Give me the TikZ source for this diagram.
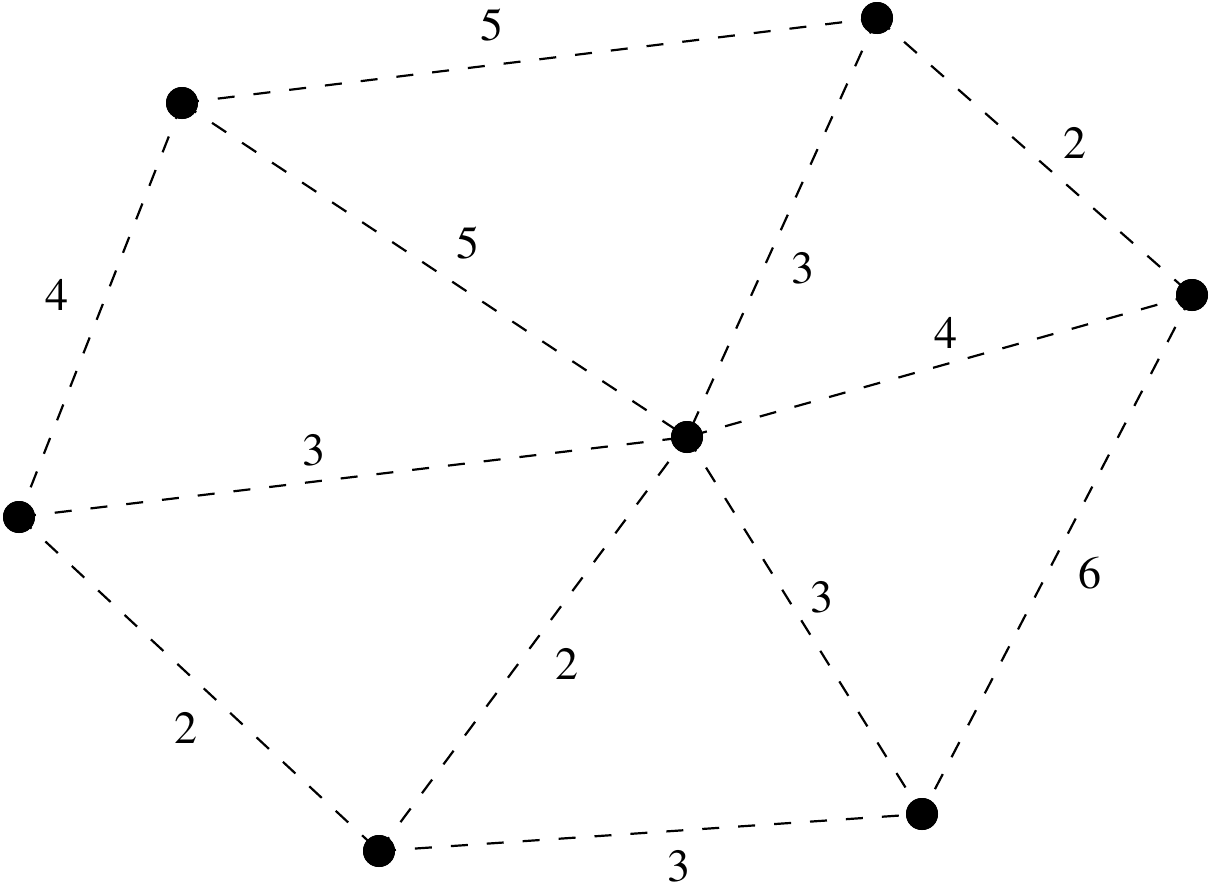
\documentclass[tikz,border=0pt]{standalone}
\usepackage[T1]{fontenc}
\begin{document}
\begin{tikzpicture}[x=1pt,y=-1pt,
  vtx/.style={circle,fill=black,inner sep=0pt,minimum size=32pt},
  edge/.style={dash pattern=on 17pt off 19pt,line width=2.2pt},
  lbl/.style={font=\fontfamily{ptm}\fontsize{46}{50}\selectfont,inner sep=0pt}]
\useasboundingbox (0,0) rectangle (1211,894);
\node[vtx] (A) at (182,103) {};
\node[vtx] (B) at (877,18) {};
\node[vtx] (C) at (1192,295) {};
\node[vtx] (D) at (687,437) {};
\node[vtx] (E) at (19,517) {};
\node[vtx] (F) at (379,851) {};
\node[vtx] (G) at (922,814) {};
\draw[edge] (A.center) -- (B.center);
\draw[edge] (B.center) -- (C.center);
\draw[edge] (A.center) -- (E.center);
\draw[edge] (A.center) -- (D.center);
\draw[edge] (B.center) -- (D.center);
\draw[edge] (C.center) -- (D.center);
\draw[edge] (E.center) -- (D.center);
\draw[edge] (E.center) -- (F.center);
\draw[edge] (F.center) -- (D.center);
\draw[edge] (D.center) -- (G.center);
\draw[edge] (C.center) -- (G.center);
\draw[edge] (F.center) -- (G.center);
\foreach \v in {A,B,C,D,E,F,G} \fill (\v) circle (16pt);
\node[lbl] (l1) at (492,25) {5};
\node[lbl] (l2) at (1075,143) {2};
\node[lbl] (l3) at (57,295) {4};
\node[lbl] (l4) at (468,243) {5};
\node[lbl] (l5) at (803,268) {3};
\node[lbl] (l6) at (946,333) {4};
\node[lbl] (l7) at (314,450) {3};
\node[lbl] (l8) at (1090,573) {6};
\node[lbl] (l9) at (822,597) {3};
\node[lbl] (l10) at (567,664) {2};
\node[lbl] (l11) at (186,728) {2};
\node[lbl] (l12) at (679,866) {3};
\end{tikzpicture}
\end{document}
